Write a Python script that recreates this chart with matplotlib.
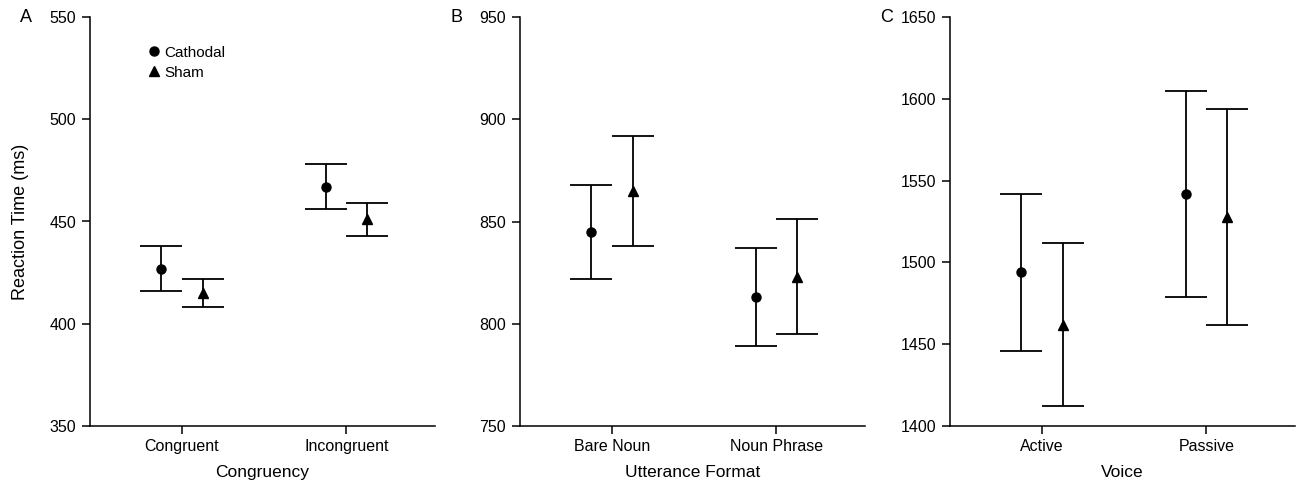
import numpy as np
import matplotlib
matplotlib.use("Agg")
import matplotlib.pyplot as plt
from matplotlib.lines import Line2D

plt.rcParams['font.family'] = ['Liberation Sans', 'DejaVu Sans']

# Panel A - Congruency
cong_labels = ['Congruent', 'Incongruent']
cong_cath = [427, 467]
cong_cath_lo = [416, 456]
cong_cath_hi = [438, 478]
cong_sham = [415, 451]
cong_sham_lo = [408, 443]
cong_sham_hi = [422, 459]

# Panel B - Utterance format
utt_labels = ['Bare Noun', 'Noun Phrase']
utt_cath = [845, 813]
utt_cath_lo = [822, 789]
utt_cath_hi = [868, 837]
utt_sham = [865, 823]
utt_sham_lo = [838, 795]
utt_sham_hi = [892, 851]

# Panel C - Voice
voice_labels = ['Active', 'Passive']
voice_cath = [1494, 1542]
voice_cath_lo = [1446, 1479]
voice_cath_hi = [1542, 1605]
voice_sham = [1462, 1528]
voice_sham_lo = [1412, 1462]
voice_sham_hi = [1512, 1594]

panels = [
    ('A', cong_labels, cong_cath, cong_cath_lo, cong_cath_hi,
     cong_sham, cong_sham_lo, cong_sham_hi, 'Congruency', (350, 550)),
    ('B', utt_labels, utt_cath, utt_cath_lo, utt_cath_hi,
     utt_sham, utt_sham_lo, utt_sham_hi, 'Utterance Format', (750, 950)),
    ('C', voice_labels, voice_cath, voice_cath_lo, voice_cath_hi,
     voice_sham, voice_sham_lo, voice_sham_hi, 'Voice', (1400, 1650)),
]

fig = plt.figure(figsize=(12.96, 4.86), dpi=100)
lefts = [90, 520, 950]
offset = 0.125

for i, (letter, labels, cm, clo, chi, sm, slo, shi, xlab, ylim) in enumerate(panels):
    ax = fig.add_axes([lefts[i] / 1296, 60 / 486, 345 / 1296, 409 / 486])
    x = np.arange(1, len(labels) + 1)
    cm, clo, chi = np.array(cm), np.array(clo), np.array(chi)
    sm, slo, shi = np.array(sm), np.array(slo), np.array(shi)

    ax.errorbar(x - offset, cm, yerr=[cm - clo, chi - cm], fmt='o', color='black',
                markersize=6.5, capsize=15, elinewidth=1.3, capthick=1.3)
    ax.errorbar(x + offset, sm, yerr=[sm - slo, shi - sm], fmt='^', color='black',
                markersize=7.5, capsize=15, elinewidth=1.3, capthick=1.3)

    ax.set_xlim(0.44, 2.54)
    ax.set_ylim(ylim)
    ax.set_yticks(np.arange(ylim[0], ylim[1] + 1, 50))
    ax.set_xticks(x)
    ax.set_xticklabels(labels)
    ax.set_xlabel(xlab, fontsize=12.5, labelpad=8)
    for s in ['top', 'right']:
        ax.spines[s].set_visible(False)
    for s in ['left', 'bottom']:
        ax.spines[s].set_linewidth(1.1)
    ax.tick_params(axis='both', direction='out', length=6, width=1.1, labelsize=11.5)
    ax.tick_params(axis='y', pad=4)
    fig.text((lefts[i] - 70) / 1296, 1 - 18 / 486, letter, fontsize=13,
             ha='left', va='center')

    if i == 0:
        ax.set_ylabel('Reaction Time (ms)', fontsize=13, labelpad=15)
        handles = [Line2D([], [], marker='o', color='black', linestyle='none', markersize=6.5),
                   Line2D([], [], marker='^', color='black', linestyle='none', markersize=7.5)]
        ax.legend(handles, ['Cathodal', 'Sham'], loc='upper left',
                  bbox_to_anchor=(0.14, 0.945), frameon=False,
                  fontsize=11, handletextpad=0.1, labelspacing=0.4,
                  handlelength=1.2, borderaxespad=0)

fig.savefig('out.png', dpi=100)
